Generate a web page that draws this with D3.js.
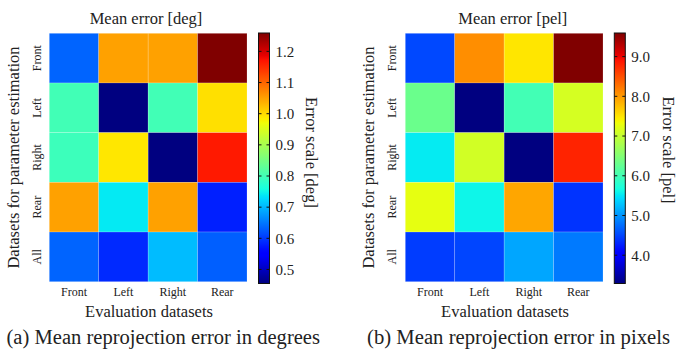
<!DOCTYPE html>
<html>
<head>
<meta charset="utf-8">
<script src="https://cdn.jsdelivr.net/npm/d3@7"></script>
<style>
    body { margin: 0; background: #fff; }
    svg text { font-family: "Liberation Serif", "Times New Roman", serif; fill: #222; }
</style>
</head>
<body>
<svg width="677" height="350"></svg>
<script>
var rowLabels = ["Front", "Left", "Right", "Rear", "All"];
var colLabels = ["Front", "Left", "Right", "Rear"];

// mean error in degrees, rows = estimation dataset, cols = evaluation dataset
var degValues = [
    [0.634, 1.05, 1.05, 1.259],
    [0.80, 0.455, 0.80, 0.996],
    [0.795, 0.99, 0.455, 1.165],
    [1.05, 0.74, 1.05, 0.58],
    [0.634, 0.588, 0.704, 0.63]
];

// mean error in pixels
var pelValues = [
    [4.52, 8.08, 7.49, 9.594],
    [6.31, 3.288, 6.0, 7.13],
    [5.53, 7.1, 3.288, 8.79],
    [7.26, 5.6, 7.92, 4.39],
    [4.45, 4.5, 5.1, 4.83]
];

var degDomain = [0.455, 1.259];
var pelDomain = [3.288, 9.594];
var degTicks = [0.5, 0.6, 0.7, 0.8, 0.9, 1.0, 1.1, 1.2];
var pelTicks = [4, 5, 6, 7, 8, 9];

var svg = d3.select("svg");

// matplotlib "jet" as piecewise linear channels
var jetR = d3.scaleLinear().domain([0, 0.35, 0.66, 0.89, 1]).range([0, 0, 1, 1, 0.5]).clamp(true);
var jetG = d3.scaleLinear().domain([0, 0.125, 0.375, 0.64, 0.91, 1]).range([0, 0, 1, 1, 0, 0]).clamp(true);
var jetB = d3.scaleLinear().domain([0, 0.11, 0.34, 0.65, 1]).range([0.5, 1, 1, 0, 0]).clamp(true);

function jet(t) {
    return d3.rgb(jetR(t) * 255, jetG(t) * 255, jetB(t) * 255).formatHex();
}

function drawPanel(p) {
    var g = svg.append("g");
    var x = d3.scaleBand().domain(colLabels).range([p.x0, p.x1]);
    var y = d3.scaleBand().domain(rowLabels).range([33.3, 281.7]);
    var norm = d3.scaleLinear().domain(p.domain).range([0, 1]).clamp(true);

    var cells = [];
    p.values.forEach(function(row, i) {
        row.forEach(function(v, j) {
            cells.push({ r: rowLabels[i], c: colLabels[j], v: v });
        });
    });

    g.selectAll("rect.cell").data(cells).enter().append("rect")
        .attr("class", "cell")
        .attr("x", function(d) { return x(d.c); })
        .attr("y", function(d) { return y(d.r); })
        .attr("width", x.bandwidth())
        .attr("height", y.bandwidth())
        .attr("fill", function(d) { return jet(norm(d.v)); })
        .attr("stroke", "rgba(255,255,255,0.3)")
        .attr("stroke-width", 0.6);

    // x tick labels
    var xAxis = g.append("g")
        .attr("transform", "translate(0,281.7)")
        .call(d3.axisBottom(x).tickSize(0).tickPadding(6));
    xAxis.select(".domain").remove();
    xAxis.selectAll("text").style("font-size", "12px").style("font-family", null);

    // y tick labels, rotated
    g.selectAll("text.ylab").data(rowLabels).enter().append("text")
        .attr("class", "ylab")
        .attr("transform", function(d) { return "translate(" + p.yTickX + "," + (y(d) + y.bandwidth() / 2) + ") rotate(-90)"; })
        .attr("text-anchor", "middle")
        .attr("dominant-baseline", "central")
        .style("font-size", "12px")
        .text(function(d) { return d; });

    // colour bar
    var cb = { x: p.cbX, y0: 33, y1: 283.5, w: 11 };
    var cScale = d3.scaleLinear().domain(p.domain).range([cb.y1, cb.y0]);
    var gradId = "grad" + p.id;
    var grad = svg.append("defs").append("linearGradient")
        .attr("id", gradId)
        .attr("x1", 0).attr("y1", 1).attr("x2", 0).attr("y2", 0);
    grad.selectAll("stop").data(d3.range(0, 1.0001, 0.01)).enter().append("stop")
        .attr("offset", function(d) { return d; })
        .attr("stop-color", function(d) { return jet(d); });

    g.append("rect")
        .attr("x", cb.x).attr("y", cb.y0)
        .attr("width", cb.w).attr("height", cb.y1 - cb.y0)
        .attr("fill", "url(#" + gradId + ")")
        .attr("stroke", "#111").attr("stroke-width", 1);

    g.selectAll("line.tl").data(p.ticks).enter().append("line")
        .attr("class", "tl")
        .attr("x1", cb.x).attr("x2", cb.x + 3)
        .attr("y1", cScale).attr("y2", cScale)
        .attr("stroke", "#111");
    g.selectAll("line.tr").data(p.ticks).enter().append("line")
        .attr("class", "tr")
        .attr("x1", cb.x + cb.w - 3).attr("x2", cb.x + cb.w)
        .attr("y1", cScale).attr("y2", cScale)
        .attr("stroke", "#111");

    var cAxis = g.append("g")
        .attr("transform", "translate(" + (cb.x + cb.w) + ",0)")
        .call(d3.axisRight(cScale).tickValues(p.ticks).tickFormat(d3.format(".1f")).tickSize(0).tickPadding(6));
    cAxis.select(".domain").remove();
    cAxis.selectAll("text").style("font-size", "15px").style("font-family", null);

    g.append("text")
        .attr("transform", "translate(" + p.cbLabelX + "," + p.cbLabelY + ") rotate(90)")
        .attr("text-anchor", "middle")
        .attr("dominant-baseline", "central")
        .style("font-size", "16.5px")
        .text(p.cbLabel);

    // titles
    g.append("text")
        .attr("x", p.titleX).attr("y", 18)
        .attr("text-anchor", "middle")
        .attr("dominant-baseline", "central")
        .style("font-size", "16.5px")
        .text(p.title);

    g.append("text")
        .attr("x", p.xLabelX).attr("y", 311)
        .attr("text-anchor", "middle")
        .attr("dominant-baseline", "central")
        .style("font-size", "16.5px")
        .text("Evaluation datasets");

    g.append("text")
        .attr("transform", "translate(" + p.yLabelX + ",157.5) rotate(-90)")
        .attr("text-anchor", "middle")
        .attr("dominant-baseline", "central")
        .style("font-size", "16.5px")
        .text("Datasets for parameter estimation");

    g.append("text")
        .attr("x", p.capX0).attr("y", 337)
        .attr("dominant-baseline", "central")
        .attr("textLength", p.capW)
        .attr("lengthAdjust", "spacingAndGlyphs")
        .style("font-size", "20.5px")
        .text(p.caption);
}

drawPanel({
    id: "a", values: degValues, domain: degDomain, ticks: degTicks,
    x0: 49.3, x1: 247, yTickX: 37.3, cbX: 258.5,
    cbLabelX: 311.7, cbLabelY: 152.5, cbLabel: "Error scale [deg]",
    titleX: 146, title: "Mean error [deg]",
    xLabelX: 149, yLabelX: 13.3,
    capX0: 6.5, capW: 313.5, caption: "(a) Mean reprojection error in degrees"
});

drawPanel({
    id: "b", values: pelValues, domain: pelDomain, ticks: pelTicks,
    x0: 405.3, x1: 603, yTickX: 392, cbX: 614.3,
    cbLabelX: 668.7, cbLabelY: 150, cbLabel: "Error scale [pel]",
    titleX: 512.8, title: "Mean error [pel]",
    xLabelX: 505, yLabelX: 368.7,
    capX0: 367, capW: 303, caption: "(b) Mean reprojection error in pixels"
});
</script>
</body>
</html>
